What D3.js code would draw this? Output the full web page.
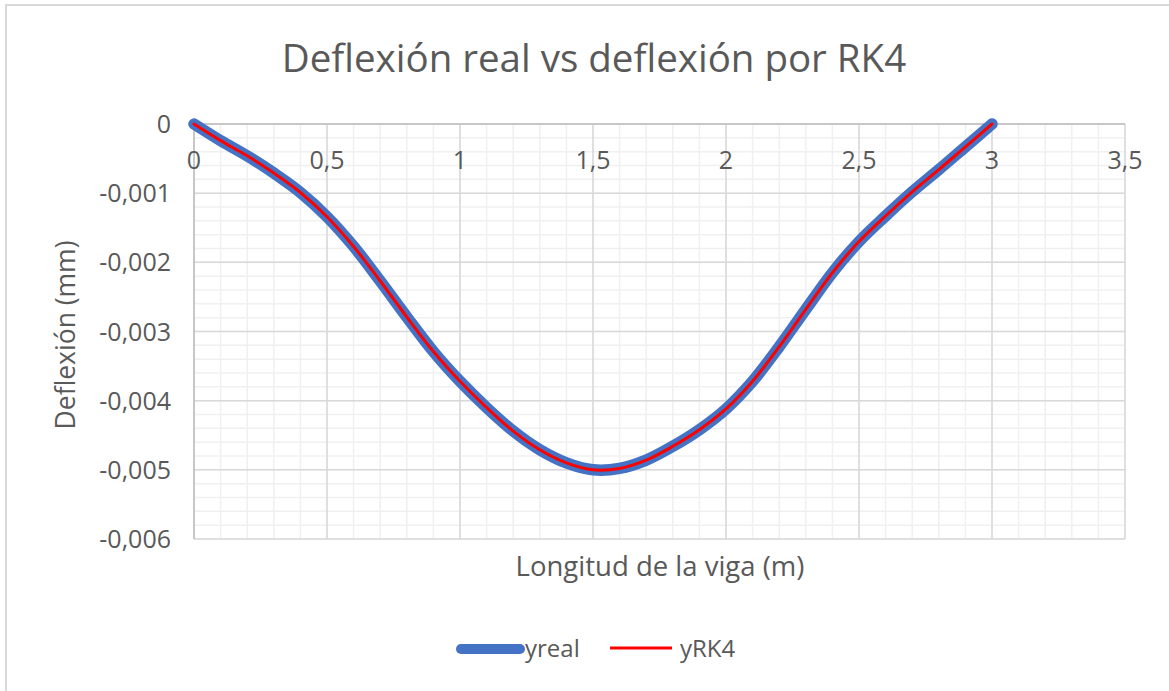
<!DOCTYPE html>
<html>
<head>
<meta charset="utf-8">
<script src="https://cdn.jsdelivr.net/npm/d3@7"></script>
<style>
  body { margin: 0; background: #fff; }
  text { font-family: "Open Sans", "Noto Sans", sans-serif; fill: #595959; }
</style>
</head>
<body>
<script>
// chart size
var w = 1169;
var h = 691;

// data
var xVals = [0, 0.1, 0.2, 0.3, 0.4, 0.5, 0.6, 0.7, 0.8, 0.9, 1.0,
             1.1, 1.2, 1.3, 1.4, 1.5, 1.6, 1.7, 1.8, 1.9, 2.0,
             2.1, 2.2, 2.3, 2.4, 2.5, 2.6, 2.7, 2.8, 2.9, 3.0];
var yReal = [0, -0.00024, -0.00046, -0.00071, -0.00099, -0.00134, -0.00177, -0.00227, -0.00279, -0.00329, -0.00372,
             -0.0041, -0.00444, -0.00471, -0.0049, -0.00500, -0.00498, -0.00486, -0.00466, -0.00442, -0.00412,
             -0.00372, -0.00322, -0.00268, -0.00215, -0.00170, -0.00133, -0.00098, -0.00066, -0.00033, 0];
var yRK4 = [0, -0.00024, -0.00046, -0.00071, -0.00099, -0.00134, -0.00177, -0.00227, -0.00279, -0.00329, -0.00372,
            -0.0041, -0.00444, -0.00471, -0.0049, -0.00500, -0.00498, -0.00486, -0.00466, -0.00442, -0.00412,
            -0.00372, -0.00322, -0.00268, -0.00215, -0.00170, -0.00133, -0.00098, -0.00066, -0.00033, 0];
var xTicks = [0, 0.5, 1, 1.5, 2, 2.5, 3, 3.5];
var yTicks = [0, -0.001, -0.002, -0.003, -0.004, -0.005, -0.006];
var seriesNames = ["yreal", "yRK4"];

var fmt = function(v) { return String(v).replace(".", ","); };

var svg = d3.select("body").append("svg")
    .attr("width", w)
    .attr("height", h);

// chart border
svg.append("rect")
    .attr("x", 6).attr("y", 5)
    .attr("width", w + 20).attr("height", h + 20)
    .attr("fill", "#fff")
    .attr("stroke", "#d9d9d9")
    .attr("stroke-width", 2);

// scales
var x = d3.scaleLinear().domain([0, 3.5]).range([194, 1125]);
var y = d3.scaleLinear().domain([-0.006, 0]).range([539, 124]);

// minor grid
var g = svg.append("g");
g.selectAll(".vminor")
  .data(d3.range(0, 36).map(function(i) { return i / 10; }))
  .enter().append("line")
    .attr("x1", function(d) { return x(d); })
    .attr("x2", function(d) { return x(d); })
    .attr("y1", y(0)).attr("y2", y(-0.006))
    .attr("stroke", "#f0f0f0").attr("stroke-width", 1.5);
g.selectAll(".hminor")
  .data(d3.range(0, 31).map(function(i) { return -i * 0.0002; }))
  .enter().append("line")
    .attr("y1", function(d) { return y(d); })
    .attr("y2", function(d) { return y(d); })
    .attr("x1", x(0)).attr("x2", x(3.5))
    .attr("stroke", "#f0f0f0").attr("stroke-width", 1.5);

// major grid
g.selectAll(".vmajor")
  .data(xTicks)
  .enter().append("line")
    .attr("x1", function(d) { return x(d); })
    .attr("x2", function(d) { return x(d); })
    .attr("y1", y(0)).attr("y2", y(-0.006))
    .attr("stroke", "#d9d9d9").attr("stroke-width", 1.5);
g.selectAll(".hmajor")
  .data(yTicks)
  .enter().append("line")
    .attr("y1", function(d) { return y(d); })
    .attr("y2", function(d) { return y(d); })
    .attr("x1", x(0)).attr("x2", x(3.5))
    .attr("stroke", "#d9d9d9").attr("stroke-width", 1.5);

// axis lines
g.append("line")
    .attr("x1", x(0)).attr("x2", x(3.5))
    .attr("y1", y(0)).attr("y2", y(0))
    .attr("stroke", "#bfbfbf").attr("stroke-width", 1.5);
g.append("line")
    .attr("x1", x(0)).attr("x2", x(0))
    .attr("y1", y(0)).attr("y2", y(-0.006))
    .attr("stroke", "#bfbfbf").attr("stroke-width", 1.5);

// tick labels
svg.selectAll(".xlab")
  .data(xTicks)
  .enter().append("text")
    .attr("x", function(d) { return x(d); })
    .attr("y", 169)
    .attr("text-anchor", "middle")
    .attr("font-size", 25)
    .text(fmt);
svg.selectAll(".ylab")
  .data(yTicks)
  .enter().append("text")
    .attr("x", 171)
    .attr("y", function(d) { return y(d) + 9; })
    .attr("text-anchor", "end")
    .attr("font-size", 25)
    .text(fmt);

// lines
var line = d3.line()
    .x(function(d) { return x(d[0]); })
    .y(function(d) { return y(d[1]); })
    .curve(d3.curveCatmullRom.alpha(0.5));

svg.append("path")
    .datum(d3.zip(xVals, yReal))
    .attr("d", line)
    .attr("fill", "none")
    .attr("stroke", "#4472c4")
    .attr("stroke-width", 11.5)
    .attr("stroke-linecap", "round");
svg.append("path")
    .datum(d3.zip(xVals, yRK4))
    .attr("d", line)
    .attr("fill", "none")
    .attr("stroke", "#ff0000")
    .attr("stroke-width", 3)
    .attr("stroke-linecap", "round");

// titles
svg.append("text")
    .attr("x", 594).attr("y", 72)
    .attr("text-anchor", "middle")
    .attr("font-size", 38.5)
    .text("Deflexión real vs deflexión por RK4");
svg.append("text")
    .attr("x", 660).attr("y", 576)
    .attr("text-anchor", "middle")
    .attr("font-size", 27.5)
    .text("Longitud de la viga (m)");
svg.append("text")
    .attr("transform", "translate(75,335) rotate(-90)")
    .attr("text-anchor", "middle")
    .attr("font-size", 26.5)
    .text("Deflexión (mm)");

// legend
var leg = svg.append("g");
leg.append("line")
    .attr("x1", 461).attr("x2", 520).attr("y1", 649).attr("y2", 649)
    .attr("stroke", "#4472c4").attr("stroke-width", 10).attr("stroke-linecap", "round");
leg.append("text")
    .attr("x", 525).attr("y", 657)
    .attr("font-size", 24)
    .text(seriesNames[0]);
leg.append("line")
    .attr("x1", 610).attr("x2", 672).attr("y1", 648).attr("y2", 648)
    .attr("stroke", "#ff0000").attr("stroke-width", 3);
leg.append("text")
    .attr("x", 680).attr("y", 657)
    .attr("font-size", 24)
    .text(seriesNames[1]);
</script>
</body>
</html>
